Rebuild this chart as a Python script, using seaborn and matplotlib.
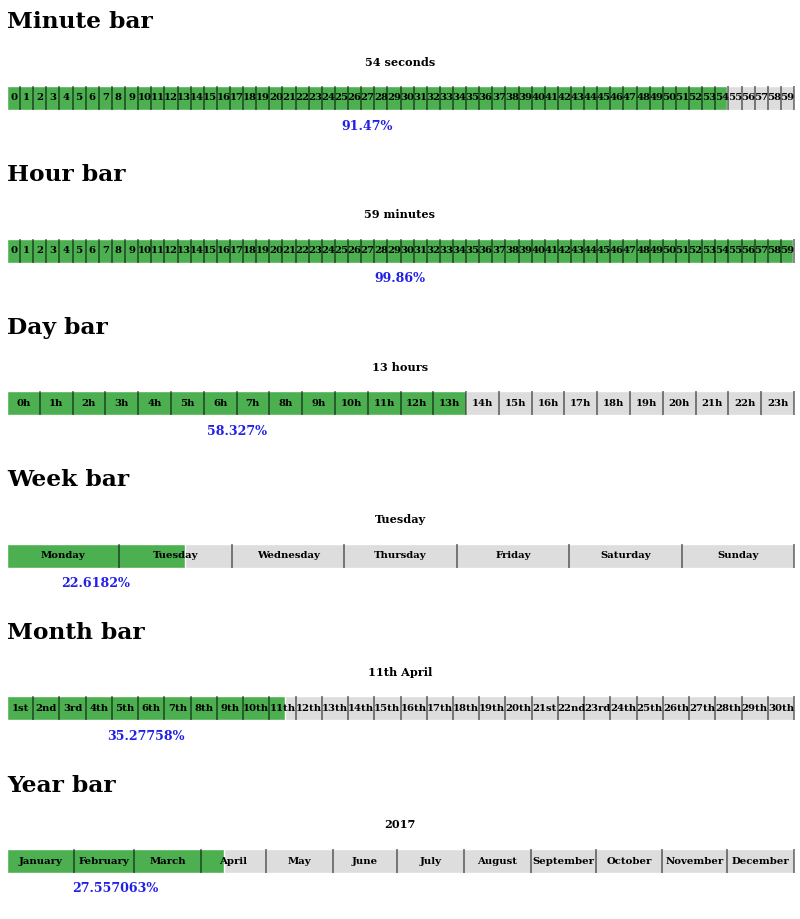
import matplotlib
matplotlib.use("Agg")
import matplotlib.pyplot as plt
import seaborn as sns

sns.set_style("white")
plt.rcParams['font.family'] = ['DejaVu Serif']
plt.rcParams['text.color'] = 'black'

# ---------------------------------------------------------------------------
# data
# ---------------------------------------------------------------------------
titles = ["Minute bar", "Hour bar", "Day bar", "Week bar", "Month bar", "Year bar"]
subtitles = ["54 seconds", "59 minutes", "13 hours", "Tuesday", "11th April", "2017"]

minute_labels = [str(i) for i in range(60)]
hour_labels = [str(i) for i in range(60)]
day_labels = [f"{i}h" for i in range(24)]
week_labels = ["Monday", "Tuesday", "Wednesday", "Thursday", "Friday",
               "Saturday", "Sunday"]
month_labels = ["1st", "2nd", "3rd", "4th", "5th", "6th", "7th", "8th", "9th",
                "10th", "11th", "12th", "13th", "14th", "15th", "16th", "17th",
                "18th", "19th", "20th", "21st", "22nd", "23rd", "24th", "25th",
                "26th", "27th", "28th", "29th", "30th"]
year_labels = ["January", "February", "March", "April", "May", "June", "July",
               "August", "September", "October", "November", "December"]

# segment sizes (equal except the year bar, which uses days per month)
minute_sizes = [1] * 60
hour_sizes = [1] * 60
day_sizes = [1] * 24
week_sizes = [1] * 7
month_sizes = [1] * 30
year_sizes = [31, 28, 31, 30, 31, 30, 31, 31, 30, 31, 30, 31]

percent_values = [91.47, 99.86, 58.327, 22.6182, 35.27758, 27.557063]
percent_labels = ["91.47%", "99.86%", "58.327%", "22.6182%", "35.27758%",
                  "27.557063%"]

all_labels = [minute_labels, hour_labels, day_labels, week_labels,
              month_labels, year_labels]
all_sizes = [minute_sizes, hour_sizes, day_sizes, week_sizes, month_sizes,
             year_sizes]

GREEN = "#4caf50"
GREY = "#dddddd"

W, H = 800, 919
fig = plt.figure(figsize=(W / 100, H / 100), dpi=100)

STEP = 152.6
BAR_LEFT, BAR_W, BAR_H = 7, 787, 24

for k in range(6):
    off = k * STEP
    labels = all_labels[k]
    sizes = all_sizes[k]
    total = sum(sizes)
    fill = total * percent_values[k] / 100

    # headings
    fig.text(BAR_LEFT / W, 1 - (22.5 + off) / H, titles[k], fontsize=16.8,
             fontweight='bold', ha='left', va='center')
    fig.text(400 / W, 1 - (62 + off) / H, subtitles[k], fontsize=8.1,
             fontweight='bold', ha='center', va='center')

    top = 86 + off
    ax = fig.add_axes([BAR_LEFT / W, 1 - (top + BAR_H) / H, BAR_W / W, BAR_H / H])

    # grey track, then the green progress on top
    sns.barplot(x=[total], y=[0], orient='h', color=GREY, width=1,
                saturation=1, ax=ax)
    sns.barplot(x=[fill], y=[0], orient='h', color=GREEN, width=1,
                saturation=1, ax=ax)

    edges = []
    acc = 0
    for lab, s in zip(labels, sizes):
        ax.text(acc + s / 2, 0, lab, ha='center', va='center',
                fontsize=7.3, fontweight='bold')
        acc += s
        edges.append(acc)
    ax.vlines(edges, -0.5, 0.5, colors='black', alpha=0.6, lw=1.1,
              clip_on=False)

    ax.set_xlim(0, total)
    ax.set_ylim(0.5, -0.5)
    ax.set_axis_off()

    # percentage under the middle of the filled part
    fig.text((BAR_LEFT + BAR_W * percent_values[k] / 100 / 2) / W,
             1 - (126 + off) / H, percent_labels[k], fontsize=9.1,
             fontweight='bold', color='#2020e6', ha='center', va='center')

fig.savefig("out.png", dpi=100)
